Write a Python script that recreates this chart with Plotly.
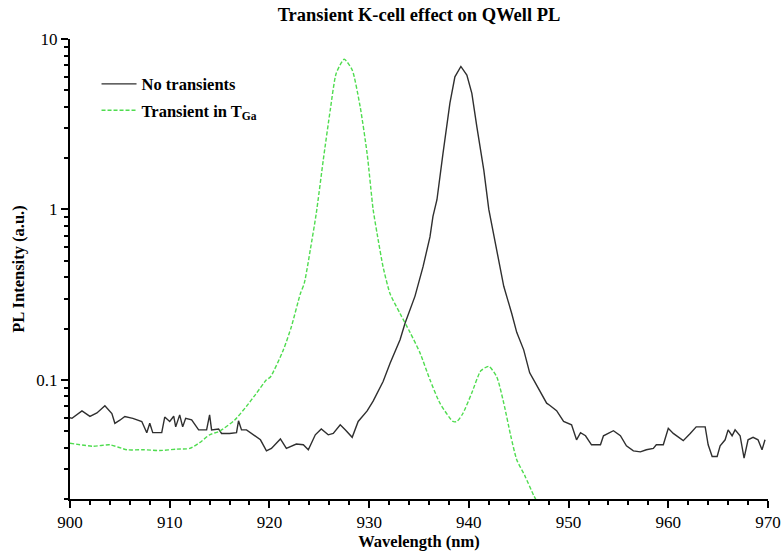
import plotly.graph_objects as go

# Photoluminescence spectra (wavelength in nm, intensity in a.u.)
wl_steady = [900.0, 900.2, 901.2, 902.0, 902.7, 903.5, 904.2, 904.5, 905.0, 905.5,
             906.3, 907.2, 907.7, 908.0, 908.3, 909.2, 909.5, 910.0, 910.4, 910.6,
             911.0, 911.3, 911.6, 912.2, 912.9, 913.7, 914.0, 914.2, 914.9, 915.2,
             916.0, 916.7, 916.9, 917.2, 917.7, 918.4, 919.1, 919.7, 920.2, 921.1,
             921.7, 922.7, 923.4, 923.9, 924.6, 925.2, 925.9, 926.4, 927.1, 927.6,
             928.3, 928.9, 929.4, 929.8, 930.4, 931.1, 931.4, 932.1, 933.1, 933.6,
             934.6, 935.4, 936.1, 936.4, 936.8, 937.4, 938.1, 938.6, 939.2, 939.8,
             940.3, 940.8, 941.5, 942.0, 942.8, 943.5, 944.3, 944.8, 945.5,
             946.1, 946.5, 947.1, 947.8, 948.1, 948.8, 949.5, 950.3, 950.8, 951.2,
             951.7, 952.3, 953.2, 953.5, 954.5, 955.2, 955.8, 956.5, 957.2, 957.8,
             958.5, 958.8, 959.5, 960.0, 960.5, 961.0, 961.5, 962.2, 962.8, 963.7,
             964.0, 964.4, 964.9, 965.2, 965.7, 966.0, 966.4, 966.7, 967.2, 967.6,
             968.0, 968.5, 969.0, 969.4, 969.7]
pl_steady = [0.060, 0.0595, 0.0657, 0.061, 0.064, 0.0705, 0.0635, 0.0556, 0.058, 0.061,
             0.0595, 0.057, 0.049, 0.0556, 0.049, 0.049, 0.0605, 0.057, 0.0612, 0.053,
             0.0623, 0.053, 0.0595, 0.0583, 0.0509, 0.0509, 0.0623, 0.0509, 0.0515, 0.0485,
             0.0485, 0.049, 0.0575, 0.0509, 0.0509, 0.0476, 0.0445, 0.0383, 0.0396, 0.045,
             0.0396, 0.042, 0.0416, 0.0389, 0.0476, 0.0515, 0.0476, 0.0485, 0.0545, 0.0509,
             0.046, 0.057, 0.062, 0.0657, 0.075, 0.090, 0.0977, 0.125, 0.172, 0.215,
             0.31, 0.46, 0.69, 0.91, 1.14, 2.12, 4.2, 6.0, 6.9, 6.15,
             4.8, 3.06, 1.7, 1.0, 0.58, 0.354, 0.245, 0.19, 0.15,
             0.11, 0.1, 0.086, 0.073, 0.071, 0.066, 0.057, 0.0545, 0.0445, 0.049,
             0.047, 0.0416, 0.0416, 0.047, 0.0503, 0.047, 0.041, 0.0383, 0.0378, 0.0389,
             0.0396, 0.0416, 0.0416, 0.052, 0.0485, 0.046, 0.044, 0.0485, 0.053, 0.053,
             0.0416, 0.0355, 0.0355, 0.041, 0.0445, 0.0509, 0.047, 0.0509, 0.047, 0.0347,
             0.0445, 0.046, 0.0445, 0.0389, 0.0445]

wl_transient = [900.0, 902.3, 904.0, 905.7, 907.4, 909.0, 910.7, 912.0, 913.0, 914.0,
                915.0, 916.5, 917.7, 918.6, 919.7, 920.1, 921.4, 922.2, 923.1, 923.5,
                924.1, 924.7, 925.4, 926.1, 926.7, 927.5, 928.3, 929.1, 929.8, 930.4,
                930.8, 931.4, 932.1, 933.1, 934.1, 935.1, 936.1, 937.1, 938.4, 938.8,
                939.4, 940.3, 941.2, 942.0, 942.8, 943.5, 944.2, 944.8, 945.6, 946.5,
                946.9]
pl_transient = [0.0425, 0.0408, 0.0416, 0.0389, 0.0389, 0.0385, 0.0392, 0.0396, 0.0428, 0.0476,
                0.050, 0.058, 0.070, 0.082, 0.1, 0.104, 0.15, 0.205, 0.32, 0.37,
                0.58, 0.95, 1.95, 3.83, 6.3, 7.6, 6.58, 4.0, 2.12, 1.0,
                0.72, 0.46, 0.32, 0.245, 0.19, 0.144, 0.1, 0.073, 0.057, 0.057,
                0.0635, 0.084, 0.113, 0.12, 0.104, 0.073, 0.047, 0.034, 0.0275, 0.021,
                0.019]

x_ticks = [900, 910, 920, 930, 940, 950, 960, 970]
y_ticks = [0.1, 1, 10]
y_tick_text = ["0.1", "1", "10"]

serif = "Liberation Serif, Times New Roman, serif"

fig = go.Figure()
fig.add_trace(go.Scatter(
    x=wl_steady, y=pl_steady, mode="lines", name="<b>No transients</b>",
    line=dict(color="#2f2f2f", width=1.4), legendgroup="a",
))
fig.add_trace(go.Scatter(
    x=wl_transient, y=pl_transient, mode="lines",
    name="<b>Transient in T<sub>Ga</sub></b>",
    line=dict(color="#4fdc4f", width=1.4, dash="4px,2px", shape="spline", smoothing=0.6),
    legendgroup="b",
))

fig.update_layout(
    width=781, height=554,
    margin=dict(l=70, r=13, t=39, b=55),
    paper_bgcolor="white", plot_bgcolor="white",
    font=dict(family=serif, color="black", size=17),
    title=dict(text="<b>Transient K-cell effect on QWell PL</b>",
               x=0.5, xref="paper", y=0.974, yref="container",
               yanchor="middle", font=dict(size=18.5, family=serif)),
    legend=dict(x=0.038, y=0.94, xanchor="left", yanchor="top",
                bgcolor="rgba(0,0,0,0)", font=dict(size=16.5, family=serif),
                tracegroupgap=2, itemwidth=35),
    showlegend=True,
)

fig.update_xaxes(
    range=[900, 970], tickvals=x_ticks, automargin=False,
    showline=True, linecolor="black", linewidth=2,
    ticks="outside", ticklen=7, tickwidth=2, tickcolor="black",
    minor=dict(ticks="outside", ticklen=4, tickwidth=2, tickcolor="black", dtick=2),
    showgrid=False, zeroline=False, mirror=False,
    tickfont=dict(size=17, family=serif),
    title=dict(text="<b>Wavelength (nm)</b>", font=dict(size=16.5, family=serif), standoff=2),
)
fig.update_yaxes(
    type="log", range=[-1.699, 1.0], automargin=False,
    tickvals=y_ticks, ticktext=y_tick_text,
    showline=True, linecolor="black", linewidth=2,
    ticks="outside", ticklen=7, tickwidth=2, tickcolor="black",
    minor=dict(ticks="outside", ticklen=4, tickwidth=2, tickcolor="black", dtick="D1"),
    showgrid=False, zeroline=False,
    tickfont=dict(size=17, family=serif),
    title=dict(text="<b>PL Intensity (a.u.)</b>", font=dict(size=16.5, family=serif), standoff=8),
)

fig.write_html("out.html")
